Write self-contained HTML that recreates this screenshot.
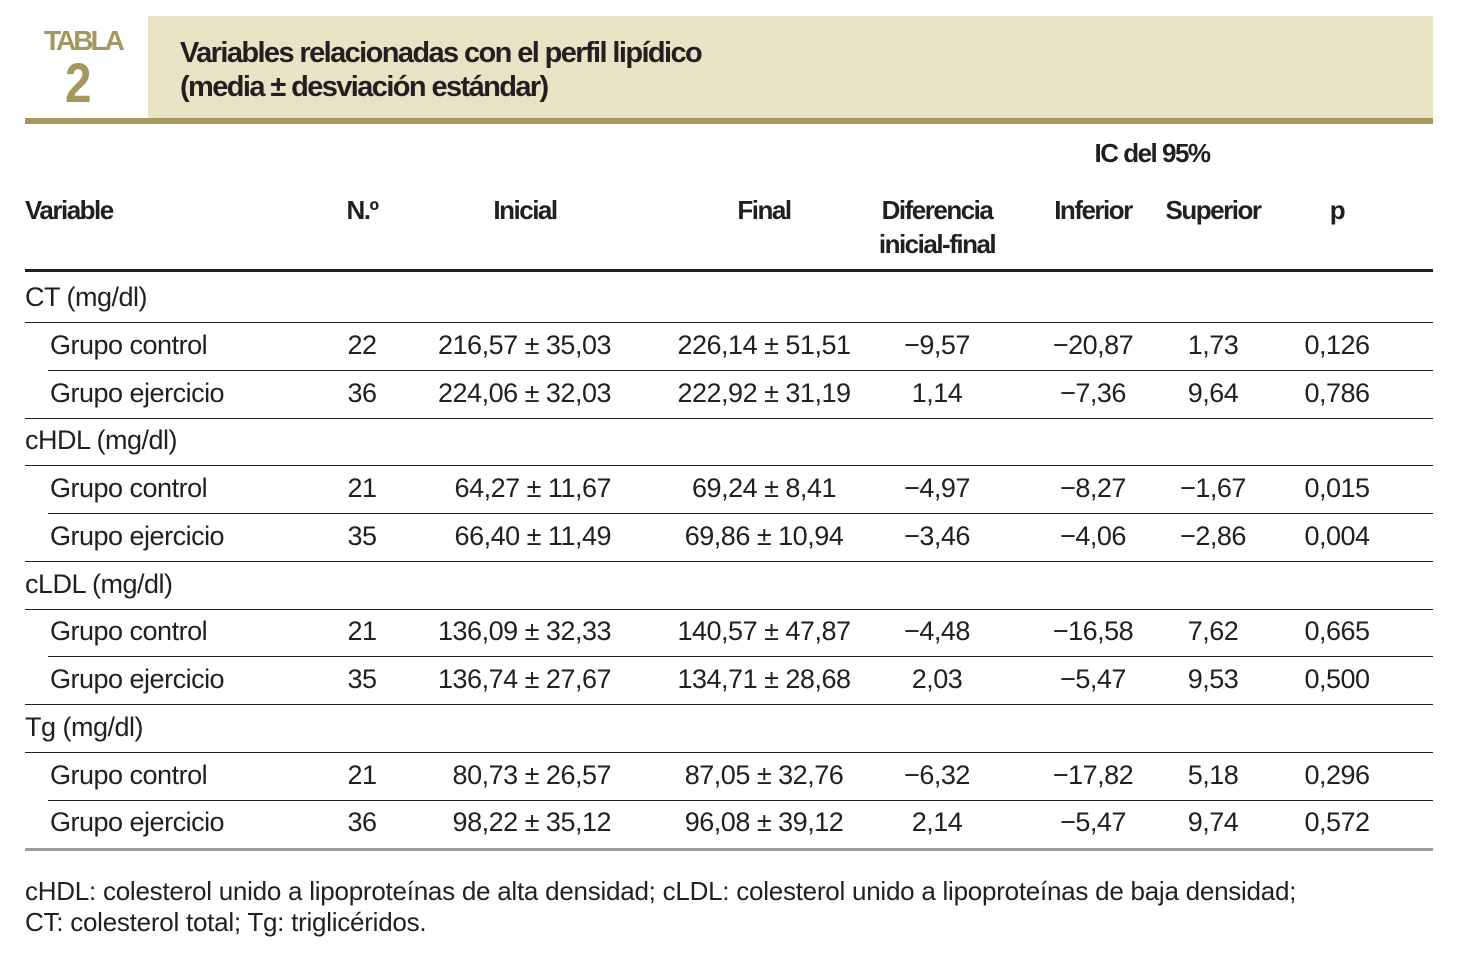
<!DOCTYPE html>
<html><head><meta charset="utf-8"><style>
body{margin:0;width:1458px;height:954px;background:#fff;position:relative;overflow:hidden;font-family:"Liberation Sans Narrow","Liberation Sans",sans-serif;color:#231f20}
.a{position:absolute;white-space:nowrap}
.c{transform:translateX(-50%)}
.r{transform:translateX(-100%)}
.t{font-size:27px;line-height:30px;letter-spacing:-0.5px}
.h{font-weight:bold;font-size:26px;line-height:34px;letter-spacing:-1.5px}
.ln{position:absolute;height:1px;background:#231f20;right:25px}
</style></head><body>
<div class="a" style="left:148px;top:16px;width:1285px;height:102px;background:#e9e3c6"></div>
<div class="a" style="left:25px;top:118px;width:1408px;height:6px;background:#a89a5e"></div>
<div class="a" style="left:44px;top:25px;font-size:28px;font-weight:bold;color:#a39860;letter-spacing:-3px">TABLA</div>
<div class="a" style="left:65px;top:50px;font-size:56px;font-weight:bold;color:#a39860;transform:scaleX(0.85);transform-origin:left">2</div>
<div class="a" style="left:180px;top:36px;font-size:29px;font-weight:bold;line-height:34px;letter-spacing:-1.6px">Variables relacionadas con el perfil lipídico<br>(media ± desviación estándar)</div>
<div class="a h c" style="left:1152px;top:136px">IC del 95%</div>
<div class="a h" style="left:25px;top:193px">Variable</div>
<div class="a h c" style="left:362px;top:193px">N.º</div>
<div class="a h c" style="left:525px;top:193px">Inicial</div>
<div class="a h c" style="left:764px;top:193px">Final</div>
<div class="a h c" style="left:937px;top:193px;text-align:center">Diferencia<br>inicial-final</div>
<div class="a h c" style="left:1093px;top:193px">Inferior</div>
<div class="a h c" style="left:1213px;top:193px">Superior</div>
<div class="a h c" style="left:1337px;top:193px">p</div>
<div class="a" style="left:25px;top:269px;width:1408px;height:3px;background:#231f20"></div>
<div id="rows"></div>
<div class="a" style="left:25px;top:848px;width:1408px;height:3px;background:#9a9a9a"></div>
<div class="a t" style="left:25px;top:876px;font-size:26px;line-height:31px;letter-spacing:-0.25px">cHDL: colesterol unido a lipoproteínas de alta densidad; cLDL: colesterol unido a lipoproteínas de baja densidad;<br>CT: colesterol total; Tg: triglicéridos.</div>
<script>
const cats=["CT (mg/dl)","cHDL (mg/dl)","cLDL (mg/dl)","Tg (mg/dl)"];
const groups=["Grupo control","Grupo ejercicio"];
const nVals=[["22","36"],["21","35"],["21","35"],["21","36"]];
const inicial=[["216,57 ± 35,03","224,06 ± 32,03"],["64,27 ± 11,67","66,40 ± 11,49"],["136,09 ± 32,33","136,74 ± 27,67"],["80,73 ± 26,57","98,22 ± 35,12"]];
const finalV=[["226,14 ± 51,51","222,92 ± 31,19"],["69,24 ± 8,41","69,86 ± 10,94"],["140,57 ± 47,87","134,71 ± 28,68"],["87,05 ± 32,76","96,08 ± 39,12"]];
const dif=[["−9,57","1,14"],["−4,97","−3,46"],["−4,48","2,03"],["−6,32","2,14"]];
const inf=[["−20,87","−7,36"],["−8,27","−4,06"],["−16,58","−5,47"],["−17,82","−5,47"]];
const sup=[["1,73","9,64"],["−1,67","−2,86"],["7,62","9,53"],["5,18","9,74"]];
const pv=[["0,126","0,786"],["0,015","0,004"],["0,665","0,500"],["0,296","0,572"]];
const root=document.getElementById('rows');
function txt(s,x,y,cls,name){const d=document.createElement('div');d.className='a t '+cls;d.style.left=x+'px';d.style.top=y+'px';d.textContent=s;


root.appendChild(d);}
function line(x,y,name){const d=document.createElement('div');d.className='ln';d.style.left=x+'px';d.style.top=y+'px';


root.appendChild(d);}
const rowH=47.75;
cats.forEach((c,i)=>{
  const y0=282+i*3*rowH;
  txt(c,25,y0,'','category-label');
  line(25,y0+40,'row-rule');
  groups.forEach((g,j)=>{
    const y=y0+(j+1)*rowH;
    txt(g,50,y,'','group-label');
    txt(nVals[i][j],362,y,'c','n-cell');
    txt(inicial[i][j],611,y,'r','inicial-cell');
    txt(finalV[i][j],764,y,'c','final-cell');
    txt(dif[i][j],937,y,'c','diferencia-cell');
    txt(inf[i][j],1093,y,'c','inferior-cell');
    txt(sup[i][j],1213,y,'c','superior-cell');
    txt(pv[i][j],1337,y,'c','p-cell');
    if(!(i==3&&j==1)) line(j==0?48:25,y+40,'row-rule');
  });
});
</script>
</body></html>
